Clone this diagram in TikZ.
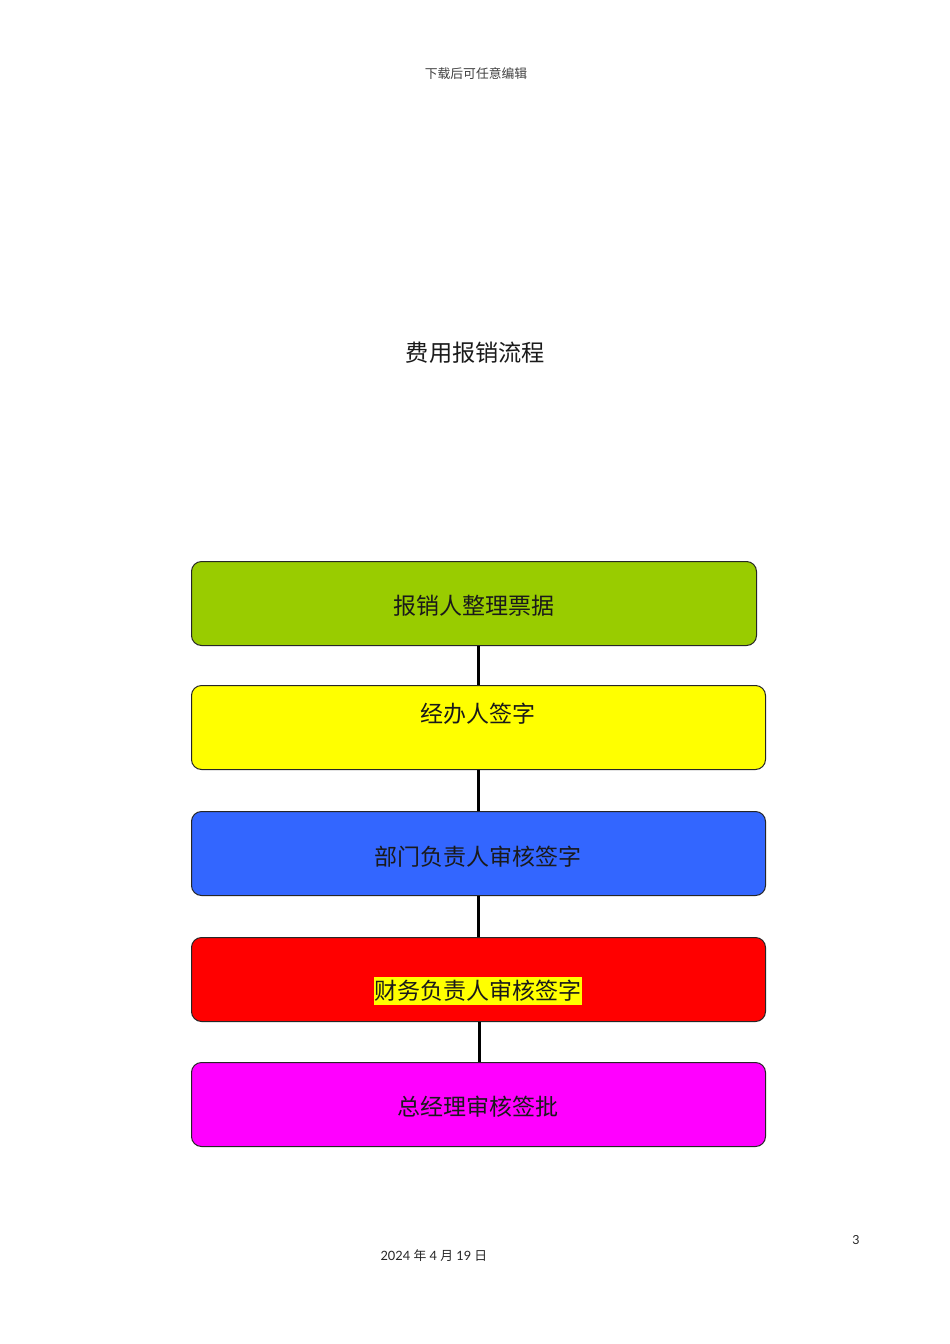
\documentclass[tikz,border=0pt]{standalone}
\usepackage{fontspec}
\newfontfamily\cjk{Noto Sans CJK SC}
\newfontfamily\latofont{Lato}
\definecolor{boxgreen}{HTML}{99CC00}
\definecolor{boxyellow}{HTML}{FFFF00}
\definecolor{boxblue}{HTML}{3366FF}
\definecolor{boxred}{HTML}{FF0000}
\definecolor{boxmag}{HTML}{FF00FF}
\definecolor{txt}{HTML}{1A1A1A}
\begin{document}
\begin{tikzpicture}[x=1pt,y=-1pt,
  stepbox/.style={draw=black!85, line width=1pt, rounded corners=10pt, minimum height=84pt, inner sep=0pt, anchor=north west},
  steptext/.style={font=\cjk\fontsize{23}{23}\selectfont, text=txt, inner sep=0pt},
  link/.style={line width=3pt, black}]
\useasboundingbox[fill=white] (0,0) rectangle (950,1344);
\node[font=\cjk\fontsize{12.8}{13}\selectfont, text=black!75] (hdr) at (476,74) {下载后可任意编辑};
\node[font=\cjk\fontsize{23.2}{23}\selectfont, text=txt] (title) at (475.5,353) {费用报销流程};

\node[stepbox, fill=boxgreen, minimum width=565pt] (b1) at (191,561) {};
\node[stepbox, fill=boxyellow, minimum width=574pt] (b2) at (191,685) {};
\node[stepbox, fill=boxblue, minimum width=574pt] (b3) at (191,811) {};
\node[stepbox, fill=boxred, minimum width=574pt] (b4) at (191,937) {};
\node[stepbox, fill=boxmag, minimum width=574pt] (b5) at (191,1062) {};

\node[steptext] (t1) at (473.5,606) {报销人整理票据};
\node[steptext] (t2) at (478,714) {经办人签字};
\node[steptext] (t3) at (478,857) {部门负责人审核签字};
\node[steptext, fill=boxyellow, inner xsep=0.5pt, inner ysep=3pt] (t4) at (478,991) {财务负责人审核签字};
\node[steptext] (t5) at (478,1107) {总经理审核签批};

\draw[link] (b1.south -| 478,0) -- (b2.north -| 478,0);
\draw[link] (b2.south -| 478,0) -- (b3.north -| 478,0);
\draw[link] (b3.south -| 478,0) -- (b4.north -| 478,0);
\draw[link] (b4.south -| 479,0) -- (b5.north -| 479,0);

\node[font=\latofont\fontsize{12.5}{13}\selectfont, text=black!85] (pg) at (856,1240) {3};
\node[font=\latofont\fontsize{12.8}{13}\selectfont, text=black!85, anchor=west] (date) at (377,1256) {2024 {\cjk 年} 4 {\cjk 月} 19 {\cjk 日}};
\end{tikzpicture}
\end{document}
